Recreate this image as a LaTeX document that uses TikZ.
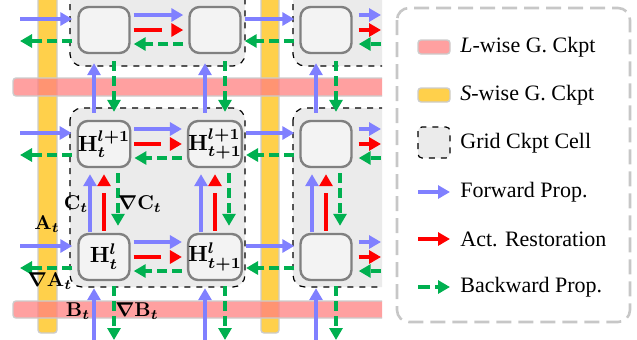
\documentclass[tikz,border=0pt]{standalone}
\usepackage{fix-cm}
\usepackage{fontspec}
\setmainfont{Liberation Serif}
\usepackage{amsmath}
\usetikzlibrary{arrows.meta, positioning, calc}

\definecolor{fwdblue}{RGB}{128,128,255}
\definecolor{bwdgreen}{RGB}{0,176,80}
\definecolor{rstred}{RGB}{255,0,0}
\definecolor{lwpink}{RGB}{255,128,128}
\definecolor{swyellow}{RGB}{255,208,75}
\definecolor{cellgray}{RGB}{235,235,235}
\definecolor{nodegray}{RGB}{243,243,243}

\tikzset{
  hnode/.style={draw=black!50, fill=nodegray, line width=1.2pt, rounded corners=5pt,
    minimum width=25.5pt, minimum height=23pt, inner sep=0pt,
    font=\fontsize{11}{13}\selectfont\boldmath},
  cellbox/.style={draw=black, dashed, fill=cellgray, rounded corners=6pt, line width=0.6pt},
  fwd/.style={draw=fwdblue, line width=1.6pt, -{Triangle[length=6pt,width=6.5pt]}},
  bwd/.style={draw=bwdgreen, line width=1.6pt, dash pattern=on 5pt off 2.5pt,
    -{Triangle[length=6pt,width=6.5pt]}},
  rst/.style={draw=rstred, line width=1.6pt, -{Triangle[length=6pt,width=6.5pt]}},
  rstline/.style={draw=rstred, line width=1.6pt},
  rsthead/.style={draw=rstred, line width=1.6pt, -{Triangle[length=6pt,width=6.5pt]}},
  lbar/.style={fill=lwpink, fill opacity=0.75, draw=black!20, line width=0.7pt, rounded corners=1.5pt},
  sbar/.style={fill=swyellow, draw=black!20, line width=0.7pt, rounded corners=1.5pt},
  glab/.style={font=\fontsize{10}{12}\selectfont\boldmath, inner sep=0pt},
  legtext/.style={font=\fontsize{11}{13}\selectfont, inner sep=0pt, anchor=west},
  legbox/.style={draw=black!22, line width=1.3pt, dash pattern=on 7.5pt off 3.5pt, rounded corners=6pt}
}

\begin{document}
\begin{tikzpicture}[x=0.5pt, y=-0.5pt]
  \useasboundingbox (0,0) rectangle (637,339);

  \begin{scope}
  \clip (0,0) rectangle (382,339);

  % Grid checkpoint cells
  \draw[cellbox] (70,-20) rectangle (245,66);
  \draw[cellbox] (293,-20) rectangle (420,66);
  \draw[cellbox] (70,108) rectangle (245,287);
  \draw[cellbox] (293,108) rectangle (420,287);

  % S-wise and L-wise checkpoints
  \draw[sbar] (38,-10) rectangle (57,333);
  \draw[sbar] (261,-10) rectangle (279,333);
  \draw[lbar] (13,78) rectangle (400,96);
  \draw[lbar] (13,301) rectangle (400,318);

  % Hidden states
  \node[hnode] (h11) at (104,30) {};
  \node[hnode] (h12) at (215,30) {};
  \node[hnode] (h13) at (326,30) {};
  \node[hnode] (h21) at (104,144) {$\mathbf{H}_t^{l+1}$};
  \node[hnode] (h22) at (215,144) {$\mathbf{H}_{t+1}^{l+1}$};
  \node[hnode] (h23) at (326,144) {};
  \node[hnode] (h31) at (104,257) {$\mathbf{H}_t^{l}$};
  \node[hnode] (h32) at (215,257) {$\mathbf{H}_{t+1}^{l}$};
  \node[hnode] (h33) at (326,257) {};

  % Loose ends
  \foreach \r/\y in {1/30,2/144,3/257} {
    \coordinate (inF\r) at (20,\y-11);
    \coordinate (inB\r) at (20,\y+11);
    \coordinate (outF\r) at (381,\y-15);
    \coordinate (outR\r) at (381,\y);
    \coordinate (outB\r) at (381,\y+14);
  }
  \foreach \c/\x in {1/104,2/215,3/326} {
    \coordinate (botF\c) at (\x-10,340);
    \coordinate (botB\c) at (\x+10,340);
  }

  % Along the sequence
  \foreach \r in {1,2,3} {
    \draw[fwd, shorten >=2.5pt] (inF\r) -- ([yshift=5.5pt]h\r1.west);
    \draw[bwd, shorten <=2.5pt] ([yshift=-5.5pt]h\r1.west) -- (inB\r);
    \draw[fwd, shorten <=1.5pt, shorten >=2.5pt] ([yshift=7.5pt]h\r1.east) -- ([yshift=7.5pt]h\r2.west);
    \draw[rstline, shorten <=1.5pt, shorten >=13pt] (h\r1.east) -- (h\r2.west);
    \draw[rsthead, shorten >=2.5pt] ([xshift=-5pt]h\r2.west) -- (h\r2.west);
    \draw[bwd, shorten <=2.5pt, shorten >=1.5pt] ([yshift=-7pt]h\r2.west) -- ([yshift=-7pt]h\r1.east);
    \draw[fwd, shorten <=1.5pt, shorten >=2.5pt] ([yshift=5.5pt]h\r2.east) -- ([yshift=5.5pt]h\r3.west);
    \draw[bwd, shorten <=2.5pt, shorten >=1.5pt] ([yshift=-5.5pt]h\r3.west) -- ([yshift=-5.5pt]h\r2.east);
    \draw[fwd, shorten <=3pt] ([yshift=7.5pt]h\r3.east) -- (outF\r);
    \draw[rst, shorten <=3pt] (h\r3.east) -- (outR\r);
    \draw[bwd, shorten >=3pt] (outB\r) -- ([yshift=-7pt]h\r3.east);
  }

  % Along the layers
  \foreach \c in {1,2,3} {
    \draw[fwd, shorten <=3.5pt, shorten >=4.5pt] ([xshift=-5pt]h2\c.north) -- ([xshift=-5pt]h1\c.south);
    \draw[bwd, shorten <=3.5pt, shorten >=4pt] ([xshift=5pt]h1\c.south) -- ([xshift=5pt]h2\c.north);
    \draw[fwd, shorten <=0.5pt, shorten >=3pt] ([xshift=-7pt]h3\c.north) -- ([xshift=-7pt]h2\c.south);
    \draw[rstline, shorten <=1pt, shorten >=12.5pt] (h3\c.north) -- (h2\c.south);
    \draw[rsthead, shorten >=3pt] ([yshift=-5pt]h2\c.south) -- (h2\c.south);
    \draw[bwd, shorten <=2.5pt, shorten >=3.5pt] ([xshift=7pt]h2\c.south) -- ([xshift=7pt]h3\c.north);
    \draw[fwd, shorten >=3.5pt] (botF\c) -- ([xshift=-5pt]h3\c.south);
    \draw[bwd, shorten <=2.5pt] ([xshift=5pt]h3\c.south) -- (botB\c);
  }

  % Tensor labels
  \node[glab] (Ct) at (76,204) {$\mathbf{C}_t$};
  \node[glab] (dCt) at (140,204) {$\nabla\mathbf{C}_t$};
  \node[glab] (At) at (47,224) {$\mathbf{A}_t$};
  \node[glab] (dAt) at (50,281) {$\nabla\mathbf{A}_t$};
  \node[glab] (Bt) at (78,311) {$\mathbf{B}_t$};
  \node[glab] (dBt) at (137,311) {$\nabla\mathbf{B}_t$};
  \end{scope}

  % Legend
  \draw[legbox] (397,8) rectangle (630,322);
  \draw[lbar] (418,40) rectangle (450,54);
  \coordinate (swL) at (450,47);
  \draw[sbar] (418,88) rectangle (450,102);
  \coordinate (swS) at (450,95);
  \draw[cellbox, rounded corners=2pt] (418,127) rectangle (450,158);
  \coordinate (swG) at (450,143);
  \coordinate (lgF0) at (418,192); \coordinate (lgF1) at (450,192);
  \coordinate (lgR0) at (418,239); \coordinate (lgR1) at (450,239);
  \coordinate (lgB0) at (418,287); \coordinate (lgB1) at (450,287);
  \draw[fwd] (lgF0) -- (lgF1);
  \draw[rst] (lgR0) -- (lgR1);
  \draw[bwd, dash pattern=on 6pt off 2.5pt] (lgB0) -- (lgB1);

  \node[legtext, right=5pt of swL] (tL) {\textit{L}-wise G. Ckpt};
  \node[legtext, right=5pt of swS] (tS) {\textit{S}-wise G. Ckpt};
  \node[legtext, right=5pt of swG] (tG) {Grid Ckpt Cell};
  \node[legtext, right=5pt of lgF1] (tF) {Forward Prop.};
  \node[legtext, right=5pt of lgR1] (tR) {Act. Restoration};
  \node[legtext, right=5pt of lgB1] (tB) {Backward Prop.};
\end{tikzpicture}
\end{document}
